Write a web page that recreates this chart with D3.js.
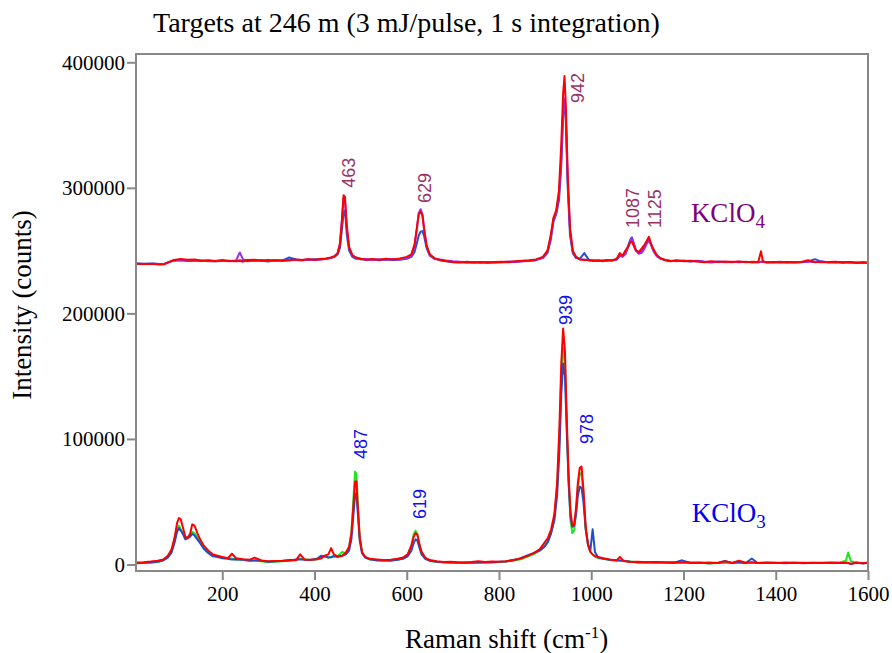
<!DOCTYPE html>
<html>
<head>
<meta charset="utf-8">
<script src="https://cdn.jsdelivr.net/npm/d3@7/dist/d3.min.js"></script>
<style>
  html, body { margin: 0; padding: 0; background: #fff; }
  svg { display: block; }
</style>
</head>
<body>
<svg id="chart" width="892" height="653"></svg>
<script>
// ---------------- DATA (intensities in thousands of counts) ----------------
const titleText = "Targets at 246 m (3 mJ/pulse, 1 s integration)";
const xTicks = [200, 400, 600, 800, 1000, 1200, 1400, 1600];
const yTicks = [0, 100000, 200000, 300000, 400000];

// KClO4 spectra (upper group)
const shift4 = [13,30,50,65,75,85,95,110,125,140,155,170,185,200,215,230,238,245,255,270,285,300,315,330,345,360,372,385,400,412,425,435,443,450,455,459,463,466,470,475,482,490,500,512,525,540,555,570,585,600,610,617,622,626,630,634,638,643,650,660,672,685,700,715,730,745,760,775,790,805,820,835,850,865,880,895,905,912,918,924,930,935,939,942,945,949,954,960,967,975,985,995,1005,1015,1025,1035,1045,1055,1062,1068,1074,1080,1085,1088,1092,1097,1103,1110,1116,1121,1125,1129,1135,1142,1150,1160,1172,1185,1200,1215,1230,1245,1260,1275,1290,1305,1320,1335,1350,1362,1368,1372,1380,1395,1410,1425,1440,1455,1470,1485,1500,1515,1530,1545,1560,1575,1590,1600];
const kclo4Blue = [239.8,239.6,239.7,239.4,239.6,240.8,242,242.3,241.8,242,242.2,241.6,241.5,241.8,241.9,241.8,242.4,242,241.6,242.2,242,241.4,242.5,242,244.5,243,242.5,242.8,243.2,242.9,243.3,244,245,247,252,265,280,282,263,250,245,243.5,243.6,242.5,243,242.3,243,242.6,242.8,243.5,245,249,256,262,265,265.5,261,252,246,243.5,242.4,241.6,240.8,240.9,240.5,240.8,240.4,240.7,240.6,241,240.8,241.2,241.5,241.8,242.4,244,248,258,273,279,290,318,358,369,352,300,262,248,244,243.5,248,242.4,241.9,242,241.6,242.2,242.4,242.8,245.5,246,247.5,254,259,260.5,256,250,248,249.5,254,258,259.5,256,250,246,243.8,242.3,241.6,242,241.8,241.4,241.8,241,240.6,241.2,241,240.7,241.2,240.9,241,240.7,240.9,241.3,240.8,240.9,240.6,241,240.6,241,241.2,243.2,241,240.8,240.6,240.9,240.5,240.6,240.3,240.6];
const kclo4Purple = [239.5,239.4,239.5,239.2,239.5,241,242.2,242.5,242,242.3,241.8,242,241.6,242,241.5,242.2,248.5,243,242.4,241.8,242.5,242,242.3,241.7,242.6,242.5,242.2,243,242.6,243,243.5,244.2,245,247.5,255,272,292,290,268,252,246,244.2,243,243.4,242.6,243.1,242.8,243.3,243,244,246,254,268,280,283,279,266,254,246.5,243.5,243,242.2,241.5,241.2,240.6,241,240.7,240.9,240.5,240.8,241.4,241,241.6,242,242.6,244.5,249,260,275,280,294,322,360,371,355,305,266,249,245,243.2,243,242.2,242.4,241.8,242.2,242,242.6,243,246,245,247,253,258,260,256,250,247.5,248.5,252,256,258,255,249.5,245.5,243.5,242.6,242,241.6,242.2,241.5,241.9,241.3,241,241.4,240.8,241.2,240.8,241.1,240.6,241,241.2,240.8,241,240.7,241.2,240.6,241,240.7,241.3,240.8,241.5,240.6,241,240.4,240.7,240.1,240.5,240.4];
const kclo4Red = [239.5,239.3,239.4,239,239.2,241,242.5,243.3,242.8,243,242,242.4,241.8,242.5,241.8,241.6,241.8,241.2,242.5,242.8,241.9,242.6,242,242.4,242.2,243,242.6,243.2,242.8,243.4,243.8,244.5,245.5,248,255,272,294,293,270,253,246.5,244.5,243.5,242.8,243.4,242.7,243.5,243,243.8,245,247,255,268,279,281,278,266,254,247,244,242.5,241.8,241,240.6,241.2,240.5,241,240.4,240.9,241.2,241,241.5,242,242.3,243,245,250,262,276,282,298,335,375,389,365,310,268,250,245,243,242.5,242.6,241.8,242.4,241.9,242.5,242,243.5,248,246,250,253,257,257,254,250,249,252,255,258,261,256,251,246.5,244,242.5,241.8,242.4,241.6,242,241.4,240.8,241.5,241,241.4,240.9,241.3,240.8,241.2,240.8,249.5,241.5,240.6,241,240.7,240.9,240.8,241,242.3,241,240.8,240.9,241.2,240.6,240.9,240.4,240.8,240.2];

// KClO3 spectra (lower group)
const shift3 = [13,30,45,60,72,82,90,97,102,106,110,115,120,125,130,135,140,146,152,160,170,180,190,200,212,221,230,245,260,270,285,300,315,330,345,360,369,378,390,405,415,422,430,436,442,450,460,468,475,480,484,488,491,494,498,503,510,520,535,550,565,580,592,602,610,615,619,623,627,632,640,650,665,680,695,710,725,740,755,770,785,800,815,830,845,860,875,888,898,906,913,920,926,931,935,939,943,947,951,955,959,963,967,971,975,979,983,988,993,998,1003,1008,1015,1025,1040,1055,1062,1070,1085,1100,1120,1140,1160,1180,1197,1215,1235,1255,1275,1290,1305,1320,1335,1348,1360,1380,1400,1420,1440,1460,1480,1500,1520,1540,1552,1557,1563,1575,1590,1600];
const kclo3Green = [1,1.2,1.5,2,3.5,6,10,19,28,31,28,25,21,22,24,26,25,22,18,13,9.5,7,6.5,5.5,5,4.5,4,3.5,2.8,3,2.5,1.8,2.2,2.6,3,3.8,4.5,4.2,3.5,4,5.5,6.5,5.5,6,7,6.5,10,9,14,25,50,74,72,48,22,10,5.5,4,3.5,3,3.4,3.8,5,8,15,24,27,24,17,10,5,3,2,1.5,1.4,1.6,1.2,1.5,1.4,1.6,1.5,2,2.4,3,4,6,8,11,14,18,25,37,62,100,150,173,160,110,65,35,25,27,42,62,72,73,57,28,15,10,8,6.5,5,4.5,3.5,3,3,2.8,2.4,1.8,2,1.5,1.8,1.2,1.5,1.6,1.3,0.8,1.1,1.4,1.2,1.5,1,1.3,1.2,1.7,1.3,1.2,1.5,1.1,1.4,1.2,1.4,1.6,3,9.5,2.5,1.3,1.2,1];
const kclo3Blue = [1,1.3,1.6,2.2,3.2,5.5,9.5,18,26,29,27,24,20,21,22,24.5,23,20,17,12.5,9,6.5,6,5,4.5,4,4.2,3.8,3.2,3.4,3,2.2,2.5,2.8,3.2,4,4.2,3.8,3.6,4.5,7,6.5,5.5,5.8,6.5,6,7,8,11,20,38,55,57,40,19,9,5.5,4.2,3.2,3.2,3,3.8,4.5,6.5,11,17,20,19,14,8,4.5,3,2.2,1.7,1.5,1.4,1.5,1.3,1.6,1.5,1.8,2.1,2.4,3.4,4.8,7,9,11,14,18,25,35,55,90,135,160,150,105,65,38,30,31,40,55,62,61,50,28,16,11,28,10,5.5,4.8,3.8,3.5,3.2,3,2.2,1.6,1.5,1.7,1.6,1.4,3.3,1.2,1.5,1,1.3,2.8,1.1,1.8,1.2,4.8,1.4,1.1,1.3,1,1.4,1,1.3,1.1,1.2,1.3,1.2,1.2,0.3,1.5,0.8,1.6];
const kclo3Red = [1.5,1.8,2.3,3,4,7,12,22,33,37,36,29,22,21,24,32,31,25,20,15,11,8,7,6,5,8.5,5,4.2,3.8,5.5,3.2,2.5,2.8,3,3.5,3.4,8,4,3.8,4.2,5,7,8,13,8,6.5,7,9.5,14,25,45,66,66,45,22,10,6,4.5,4,3.6,3.8,4.5,5.5,8,15,22,25,24,17,10,5.5,3.5,2.5,2,2.2,1.8,1.6,2,2.6,2,2.4,2.2,2.6,3.5,4.5,6.5,9,12,17,21,28,40,65,110,160,188,170,115,70,42,31,32,45,65,77,78,60,30,16,10,8,6.5,6,5,4,3.2,6,2.8,2,2.2,1.8,2,1.5,1.8,1.6,1.4,1.2,1.5,1.2,2.5,1.3,3,1.4,1.8,1.2,1.4,1.1,1.5,1.2,1.4,1.1,1.3,1.5,1.2,1.4,1.3,0.5,1.4,1,1.4];

const peakLabels4 = [
  {text: "463", cm: 488, counts: 300000},
  {text: "629", cm: 652, counts: 288000},
  {text: "942", cm: 984, counts: 367500},
  {text: "1087", cm: 1103, counts: 268000},
  {text: "1125", cm: 1151, counts: 268000}
];
const peakLabels3 = [
  {text: "487", cm: 514, counts: 84000},
  {text: "619", cm: 642, counts: 36200},
  {text: "939", cm: 958, counts: 190700},
  {text: "978", cm: 1004, counts: 96000}
];
const compoundLabels = [
  {name: "KClO", sub: "4", cm: 1216, counts: 272800, color: "#800080"},
  {name: "KClO", sub: "3", cm: 1218, counts: 33800, color: "#0000ee"}
];

// ---------------- CHART ----------------
const svg = d3.select("#chart");
const mLeft = 136, mRight = 868, mTop = 54, mBottom = 571;
const serif = "Liberation Serif, Times New Roman, Times, serif";
const sans = "Liberation Sans, Arial, Helvetica, sans-serif";

const x = d3.scaleLinear().domain([13, 1600]).range([mLeft, mRight]);
const y = d3.scaleLinear().domain([-5200, 406600]).range([mBottom, mTop]);

const series = [
  {xs: shift4, ys: kclo4Blue, color: "#2a4fd6"},
  {xs: shift4, ys: kclo4Purple, color: "#9a2ee6"},
  {xs: shift4, ys: kclo4Red, color: "#ff0000"},
  {xs: shift3, ys: kclo3Green, color: "#1ee61e"},
  {xs: shift3, ys: kclo3Blue, color: "#1f4fcf"},
  {xs: shift3, ys: kclo3Red, color: "#ff0000"}
];

const line = d3.line().x(d => x(d[0])).y(d => y(d[1] * 1000));

svg.append("defs").append("clipPath").attr("id", "clip")
  .append("rect").attr("x", mLeft).attr("y", mTop).attr("width", mRight - mLeft).attr("height", mBottom - mTop);

const plot = svg.append("g").attr("clip-path", "url(#clip)");
series.forEach(s => {
  plot.append("path")
    .datum(s.xs.map((v, i) => [v, s.ys[i]]))
    .attr("fill", "none")
    .attr("stroke", s.color)
    .attr("stroke-width", 2)
    .attr("stroke-linejoin", "round")
    .attr("d", line);
});

// axes
const xAxis = svg.append("g").attr("transform", `translate(0,${mBottom})`)
  .call(d3.axisBottom(x).tickValues(xTicks).tickSize(9).tickSizeOuter(0).tickPadding(6).tickFormat(d3.format("d")));
const yAxis = svg.append("g").attr("transform", `translate(${mLeft},0)`)
  .call(d3.axisLeft(y).tickValues(yTicks).tickSize(9).tickSizeOuter(0).tickPadding(2).tickFormat(d3.format("d")));
[xAxis, yAxis].forEach(a => {
  a.attr("font-family", serif).attr("font-size", 21);
  a.select(".domain").remove();
  a.selectAll(".tick line").attr("stroke", "#888").attr("stroke-width", 2);
  a.selectAll(".tick text").attr("fill", "#000").attr("font-family", serif).attr("font-size", 21);
});

// frame
svg.append("rect").attr("x", mLeft).attr("y", mTop).attr("width", mRight - mLeft).attr("height", mBottom - mTop)
  .attr("fill", "none").attr("stroke", "#888").attr("stroke-width", 2);

// peak labels
function drawPeak(lbls, color) {
  lbls.forEach(l => {
    svg.append("text")
      .attr("transform", `translate(${x(l.cm)},${y(l.counts)}) rotate(-90)`)
      .attr("fill", color)
      .attr("font-family", sans).attr("font-size", 18)
      .text(l.text);
  });
}
drawPeak(peakLabels4, "#993366");
drawPeak(peakLabels3, "#1010ee");

// compound labels
compoundLabels.forEach(c => {
  const t = svg.append("text")
    .attr("x", x(c.cm)).attr("y", y(c.counts))
    .attr("fill", c.color)
    .attr("font-family", serif).attr("font-size", 27);
  t.append("tspan").text(c.name);
  t.append("tspan").attr("dy", 6).attr("font-size", 19).text(c.sub);
});

// title
svg.append("text").attr("x", 153).attr("y", 32)
  .attr("font-family", serif).attr("font-size", 28).attr("fill", "#000")
  .text(titleText);

// x axis title
const xt = svg.append("text").attr("x", 405).attr("y", 648)
  .attr("font-family", serif).attr("font-size", 27).attr("fill", "#000");
xt.append("tspan").text("Raman shift (cm");
xt.append("tspan").attr("dy", -10).attr("font-size", 17).text("-1");
xt.append("tspan").attr("dy", 10).text(")");

// y axis title
svg.append("text")
  .attr("transform", "translate(31,305) rotate(-90)")
  .attr("text-anchor", "middle")
  .attr("font-family", serif).attr("font-size", 27).attr("fill", "#000")
  .text("Intensity (counts)");
</script>
</body>
</html>
